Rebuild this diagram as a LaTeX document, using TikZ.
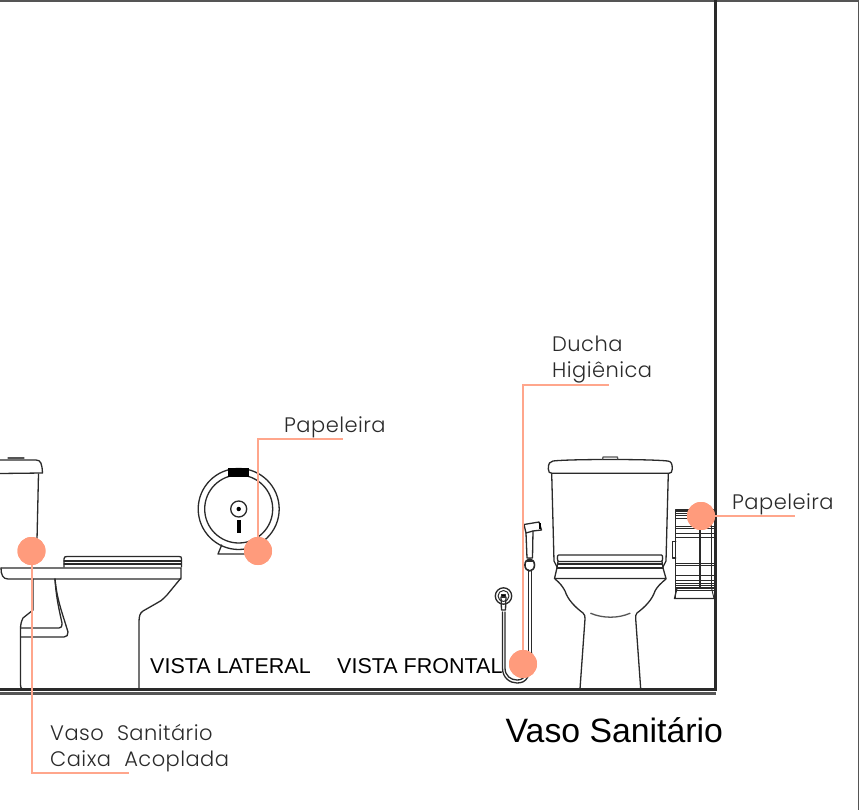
\documentclass[tikz,border=0pt]{standalone}
\usepackage{fontspec}
\setmainfont{Liberation Sans}
\newfontfamily\lblfont[LetterSpace=2.2]{Poppins Light}
\definecolor{dotc}{HTML}{FF9B7C}
\definecolor{leadc}{HTML}{FFA68C}
\definecolor{linec}{HTML}{2A2A2A}
\definecolor{edgec}{HTML}{555555}
\tikzset{
  px/.style={x=1pt,y=-1pt},
  ln/.style={draw=linec,line width=1.3pt,line join=round,line cap=round},
  fine/.style={draw=linec,line width=0.9pt},
  wall/.style={draw=linec,line width=2.1pt},
  edge/.style={draw=edgec,line width=1.8pt},
  dotn/.style={circle,fill=dotc,inner sep=0pt,minimum size=28pt},
  lead/.style={draw=leadc,line width=2pt,line join=miter},
  lbl/.style={anchor=base west,inner sep=0pt,text=linec,font=\lblfont\fontsize{21}{25}\selectfont},
  vista/.style={anchor=base west,inner sep=0pt,text=black,font=\fontsize{21.5}{26}\selectfont},
}
\begin{document}
\begin{tikzpicture}[px]
\useasboundingbox (0,0) rectangle (860,810);
\fill[white] (0,0) rectangle (860,810);
% frame
\draw[edge] (0,1) -- (859,1);
\draw[edge] (858.5,0) -- (858.5,810);
\draw[wall] (715.5,0) -- (715.5,691);
\draw[draw=linec,line width=2.2pt] (0,689.5) -- (716,689.5);
\draw[draw=edgec,line width=2.2pt] (0,693.5) -- (716,693.5);
% lateral toilet
\draw[ln] (0,460) -- (36,460) .. controls (41,460) and (42,464) .. (42.5,473) -- (0,473.5);
\draw[ln,draw=edgec] (8,458) -- (24,458);
\draw[ln] (38.5,474) -- (37,540);
\draw[ln] (1,568) -- (181,568) -- (181,578) -- (167,595) .. controls (162,600) and (160,602) .. (157,603) -- (143,611) .. controls (140,613) and (139,616) .. (139,622) -- (139,688);
\draw[ln] (1,568) .. controls (1,575) and (3,579) .. (8,579) -- (181,579);
\draw[ln] (64,567) -- (64,559) .. controls (64,557) and (65,556.5) .. (67,556.5) -- (179,556.5) .. controls (181,556.5) and (181.5,557) .. (181.5,559) -- (181.5,567);
\draw[ln] (64,561) -- (181.5,561) (64,564) -- (181.5,564);
\draw[ln] (33,579) -- (33,610) -- (23,618) .. controls (21,622) and (20.5,625) .. (20.5,630) -- (20.5,683) .. controls (20.5,687) and (21,688) .. (22,689);
\draw[ln] (55,579) .. controls (56,595) and (58,605) .. (62,623) .. controls (62,627) and (61,628) .. (59,628) -- (21,628);
\draw[ln] (55,579) .. controls (57,600) and (62,612) .. (68,632) .. controls (68,635) and (67,637) .. (64,637) -- (21,637);
% dispenser front
\coordinate (dc) at (238.7,509);
\draw[ln] (dc) circle[radius=40.5pt];
\draw[ln] (dc) circle[radius=34pt];
\fill[black] (228,468) rectangle (249,476.5);
\draw[ln] (dc) circle[radius=8pt];
\fill[black] (dc) circle[radius=2.2pt];
\draw[draw=black,line width=3.6pt] (238.7,520) -- (238.7,533);
\draw[ln] (221.7,545) -- (218,554) -- (250,554);
% hand shower
\draw[ln] (524,524.5) -- (539,522) -- (541.5,530) -- (533,531) (524,524.5) -- (526,533) -- (533,531);
\draw[ln] (526,533) -- (527,558) (533,531) -- (532.5,558) (527,558) -- (532.5,558);
\fill[black] (538.5,523) rectangle (540.5,529);
\draw[ln,line width=1.6pt] (529.7,565) ellipse[x radius=4.8pt,y radius=6pt];
\draw[ln] (527,561) -- (532.5,561);
\draw[ln] (528.5,570) -- (528.5,652) (531.5,570) -- (531.5,652);
\draw[ln] (505,612) -- (505,668) .. controls (505,676) and (511,680) .. (517,680) .. controls (524,680) and (528.5,676) .. (528.5,652);
\draw[ln] (502.5,612) -- (502.5,668) .. controls (502.5,678) and (510,683) .. (517,683) .. controls (526,683) and (531.5,678) .. (531.5,652);
\draw[ln] (503.5,596) circle[radius=8.2pt];
\draw[ln,line width=1pt] (503.5,596) circle[radius=5.5pt];
\draw[ln] (501,597) -- (501.5,610) -- (505.5,610) -- (506,597);
\draw[ln,fill=black] (501.5,594.5) rectangle (505.5,597);
% front toilet
\draw[ln] (548.3,469) .. controls (548.3,463) and (550,461.5) .. (553,461) .. controls (570,459) and (650,459) .. (667.7,461) .. controls (671,461.5) and (672.3,463) .. (672.3,469) .. controls (672.3,472) and (671,473.3) .. (669,473.3) -- (552,473.3) .. controls (549.5,473.3) and (548.3,472) .. (548.3,469);
\draw[ln,draw=edgec] (602.7,459) -- (603,457) -- (617.5,457) -- (617.7,459);
\draw[ln] (551.7,473.5) -- (554,561) -- (557,567) (668.3,473.5) -- (666,561) -- (663,567);
\draw[ln] (558.5,555) -- (661.5,555) .. controls (663,555) and (663,561) .. (661.5,561.5) -- (558.5,561.5) .. controls (557,561) and (557,555) .. (558.5,555);
\draw[ln] (558,564) -- (662,564);
\draw[ln,line width=1.7pt] (557,568) -- (663,568);
\draw[ln] (558,561.5) -- (556.7,569) -- (554.5,578.5) -- (666,578.5) -- (663.3,569) -- (662,561.5);
\draw[ln] (555,579) .. controls (560,583) and (563,587) .. (565,591) .. controls (568,600) and (575,607) .. (583,613) .. controls (585,615) and (585,616) .. (585,619) -- (580,689);
\draw[ln] (666,579) .. controls (661,583) and (657,587) .. (655,591) .. controls (652,600) and (645,607) .. (637,613) .. controls (635.5,615) and (635.5,616) .. (635.7,619) -- (640.7,689);
\draw[ln,draw=edgec] (590.7,613.3) .. controls (603,618.5) and (618,618.5) .. (630,613.3);
% side dispenser
\draw[ln] (675.7,598) -- (675.7,510) -- (714,510);
\foreach \yy in {511.5,513,515,518,526,528,533,537,563,565,575,580,583,585,587,588.5,590}
  \draw[fine] (675.7,\yy) -- (714,\yy);
\draw[ln] (700,510) -- (700,588);
\draw[fine] (711.5,510) -- (711.5,588);
\draw[ln] (677,588) -- (674.5,598.5) -- (714,598.5);
\draw[fine] (711.5,588) -- (714,598.5);
\draw[ln] (675.7,541.7) -- (672.3,541.7) -- (672.3,558) -- (675.7,558);
% text
\node[vista] (vl) at (150,673) {VISTA LATERAL};
\node[vista] (vf) at (337,673) {VISTA FRONTAL};
\node[anchor=base west,inner sep=0pt,text=black,font=\fontsize{33.8}{38}\selectfont] (title) at (505.5,742) {Vaso Sanitário};
\node[lbl] (l1) at (50,740) {Vaso\hspace{7pt} Sanitário};
\node[lbl] (l2) at (50,766) {Caixa\hspace{7pt} Acoplada};
\node[lbl] (l3) at (284,432) {Papeleira};
\node[lbl] (l4) at (552,352) {Ducha};
\node[lbl] (l5) at (552,378) {Higiênica};
\node[lbl] (l6) at (732,509) {Papeleira};
% leaders and dots
\node[dotn] (d1) at (31.5,551) {};
\node[dotn] (d2) at (258,551) {};
\node[dotn] (d3) at (523,664) {};
\node[dotn] (d4) at (701,516) {};
\coordinate (e1) at (129,773);
\coordinate (e2) at (343,439);
\coordinate (e3) at (609,385);
\coordinate (e4) at (795,516);
\draw[lead] (d1.center) |- (e1);
\draw[lead] (d2.center) |- (e2);
\draw[lead] (d3.center) |- (e3);
\draw[lead] (d4.center) -- (e4);
\node[dotn] at (d1) {};
\node[dotn] at (d2) {};
\node[dotn] at (d3) {};
\node[dotn] at (d4) {};
\end{tikzpicture}
\end{document}
